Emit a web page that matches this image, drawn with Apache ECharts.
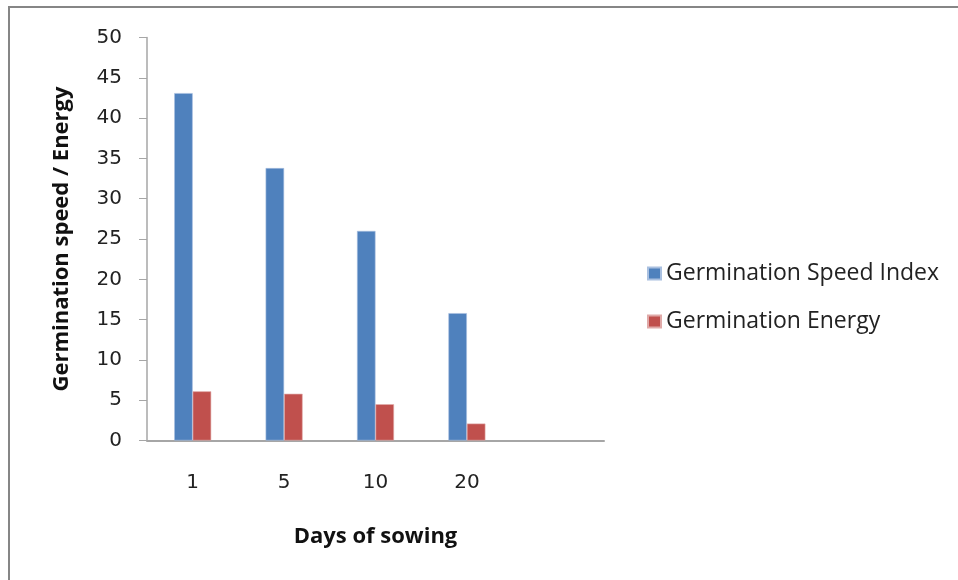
<!DOCTYPE html>
<html>
<head>
<meta charset="utf-8">
<script src="https://cdn.jsdelivr.net/npm/echarts@6/dist/echarts.min.js"></script>
<style>html,body{margin:0;padding:0;background:#fff;}#c{width:958px;height:580px;}</style>
</head>
<body>
<div id="c"></div>
<script>
var categories = ['1', '5', '10', '20', ''];
var speedIndex = [43.1, 33.8, 26.0, 15.8, null];
var energy = [6.1, 5.8, 4.5, 2.1, null];
var yTicks = [0, 5, 10, 15, 20, 25, 30, 35, 40, 45, 50];

var FONT = '"Open Sans", "Liberation Sans", sans-serif';
var TICKFONT = '"DejaVu Sans", sans-serif';
var chart = echarts.init(document.getElementById('c'), null, {renderer: 'canvas'});
chart.setOption({
  animation: false,
  backgroundColor: '#ffffff',
  graphic: [{
    type: 'rect', shape: {x: 9, y: 7, width: 960, height: 590},
    style: {fill: 'none', stroke: '#868686', lineWidth: 2}, silent: true
  }],
  grid: {left: 147, right: 354, top: 37.5, bottom: 139.5, containLabel: false},
  legend: {
    orient: 'vertical', left: 642, top: 257, itemWidth: 13, itemHeight: 12, itemGap: 25,
    icon: 'rect',
    textStyle: {fontFamily: FONT, fontSize: 23, color: '#222', padding: [0, 0, 0, 0]},
    data: ['Germination Speed Index', 'Germination Energy']
  },
  xAxis: {
    type: 'category', data: categories,
    name: 'Days of sowing', nameLocation: 'middle', nameGap: 85,
    nameTextStyle: {fontFamily: FONT, fontSize: 22, fontWeight: 'bold', color: '#111'},
    axisLine: {lineStyle: {color: '#a6a6a6', width: 2}},
    axisTick: {show: false},
    axisLabel: {fontFamily: TICKFONT, fontSize: 20, color: '#222', margin: 32}
  },
  yAxis: {
    type: 'value', min: yTicks[0], max: yTicks[yTicks.length - 1], interval: 5,
    name: 'Germination speed / Energy', nameLocation: 'middle', nameGap: 74,
    nameTextStyle: {fontFamily: FONT, fontSize: 22, fontWeight: 'bold', color: '#111'},
    axisLine: {show: true, lineStyle: {color: '#a6a6a6', width: 1.5}},
    axisTick: {show: true, inside: false, length: 8, lineStyle: {color: '#a6a6a6'}},
    splitLine: {show: false},
    axisLabel: {fontFamily: TICKFONT, fontSize: 20, color: '#222', margin: 25}
  },
  series: [
    {name: 'Germination Speed Index', type: 'bar', data: speedIndex, barWidth: 18.5, barGap: '0%',
     itemStyle: {color: '#4f81bd', borderColor: '#a9c0e0', borderWidth: 0.6}},
    {name: 'Germination Energy', type: 'bar', data: energy, barWidth: 18.5, barGap: '0%',
     itemStyle: {color: '#c0504d', borderColor: '#e0a9a8', borderWidth: 0.6}}
  ]
});
</script>
</body>
</html>
